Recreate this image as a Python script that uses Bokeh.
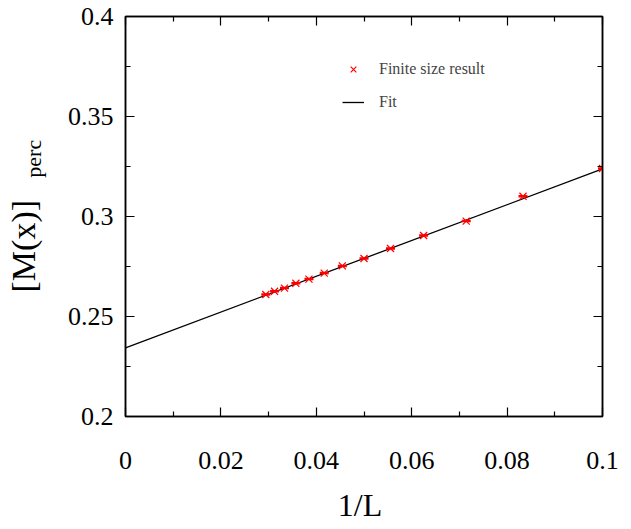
from bokeh.plotting import figure
from bokeh.models import (LinearAxis, FixedTicker, Range1d, Legend, LegendItem)
from bokeh.embed import file_html
from bokeh.resources import INLINE

# ---- data ----
L_sizes = [10, 12, 14, 16, 18, 20, 22, 24, 26, 28, 30, 32, 34]
inv_L = [1.0 / l for l in L_sizes]
M_perc = [0.3240, 0.3101, 0.2977, 0.2905, 0.2840, 0.2790, 0.2753,
          0.2717, 0.2687, 0.2666, 0.2642, 0.2626, 0.2610]
fit_x = [0.0, 0.1]
fit_y = [0.2343, 0.3238]

x_ticks = [0.0, 0.02, 0.04, 0.06, 0.08, 0.1]
x_tick_labels = ["0", "0.02", "0.04", "0.06", "0.08", "0.1"]
x_minor = [0.01, 0.03, 0.05, 0.07, 0.09]
y_ticks = [0.2, 0.25, 0.3, 0.35, 0.4]
y_tick_labels = ["0.2", "0.25", "0.3", "0.35", "0.4"]
y_minor = [0.225, 0.275, 0.325, 0.375]

NB = "\u00a0"
x_label = "1/L" + NB
y_label_main = "[M(x)]" + NB * 7
y_label_sub = NB * 21 + "perc"

SERIF = "Liberation Serif"

p = figure(width=623, height=529, output_backend="svg", toolbar_location=None,
           x_range=Range1d(0, 0.1), y_range=Range1d(0.2, 0.4),
           min_border_left=125, min_border_right=21, min_border_top=16,
           min_border_bottom=113, x_axis_location=None, y_axis_location=None)
p.grid.visible = False
p.outline_line_color = "black"
p.outline_line_width = 1.5
p.background_fill_color = "white"
p.border_fill_color = "white"

def make_axis(ticks, minor, labels, show_labels, standoff):
    ax = LinearAxis(ticker=FixedTicker(ticks=ticks, minor_ticks=minor))
    ax.major_label_overrides = {t: s for t, s in zip(ticks, labels)}
    ax.major_tick_in = 9
    ax.major_tick_out = 0
    ax.minor_tick_in = 5
    ax.minor_tick_out = 0
    ax.axis_line_color = "black"
    ax.axis_line_width = 1.5
    ax.major_tick_line_color = "black"
    ax.minor_tick_line_color = "black"
    ax.major_tick_line_width = 1.2
    ax.minor_tick_line_width = 1.2
    if show_labels:
        ax.major_label_text_font = SERIF
        ax.major_label_text_font_size = "26px"
        ax.major_label_text_color = "black"
        ax.major_label_standoff = standoff
    else:
        ax.major_label_text_font_size = "0px"
        ax.major_label_standoff = 0
    return ax

xb = make_axis(x_ticks, x_minor, x_tick_labels, True, 35)
xb.axis_label = x_label
xb.axis_label_text_font = SERIF
xb.axis_label_text_font_style = "normal"
xb.axis_label_text_font_size = "32px"
xb.axis_label_text_color = "black"
xb.axis_label_standoff = 15
p.add_layout(xb, "below")

yl = make_axis(y_ticks, y_minor, y_tick_labels, True, 12)
yl.axis_label = y_label_sub
yl.axis_label_text_font = SERIF
yl.axis_label_text_font_style = "normal"
yl.axis_label_text_font_size = "22px"
yl.axis_label_text_color = "black"
yl.axis_label_standoff = 19
p.add_layout(yl, "left")

# outer left axis carrying only the main part of the y label
yl2 = LinearAxis(ticker=FixedTicker(ticks=[]), axis_line_color=None,
                 major_tick_line_color=None, minor_tick_line_color=None,
                 major_label_standoff=0, major_tick_in=0, major_tick_out=0,
                 minor_tick_in=0, minor_tick_out=0)
yl2.axis_label = y_label_main
yl2.axis_label_text_font = SERIF
yl2.axis_label_text_font_style = "normal"
yl2.axis_label_text_font_size = "34px"
yl2.axis_label_text_color = "black"
yl2.axis_label_standoff = -24
p.add_layout(yl2, "left")

p.add_layout(make_axis(x_ticks, x_minor, x_tick_labels, False, 0), "above")
p.add_layout(make_axis(y_ticks, y_minor, y_tick_labels, False, 0), "right")

# fit line
r_fit = p.line(fit_x, fit_y, line_color="black", line_width=1.3)
# data markers
r_pts = p.scatter(inv_L, M_perc, marker="x", size=10, line_color="red", line_width=1.2)
p.scatter(inv_L, M_perc, marker="dash", size=9, line_color="red", line_width=2.5)

legend = Legend(items=[LegendItem(label="Finite size result", renderers=[r_pts]),
                       LegendItem(label="Fit", renderers=[r_fit])],
                location=(217, 304), padding=0, margin=0, spacing=13,
                glyph_width=22, glyph_height=20, label_height=20,
                label_standoff=15, label_text_font=SERIF,
                label_text_font_size="16px", background_fill_alpha=0,
                border_line_color=None)
p.add_layout(legend)

open("out.html", "w").write(file_html(p, INLINE))
